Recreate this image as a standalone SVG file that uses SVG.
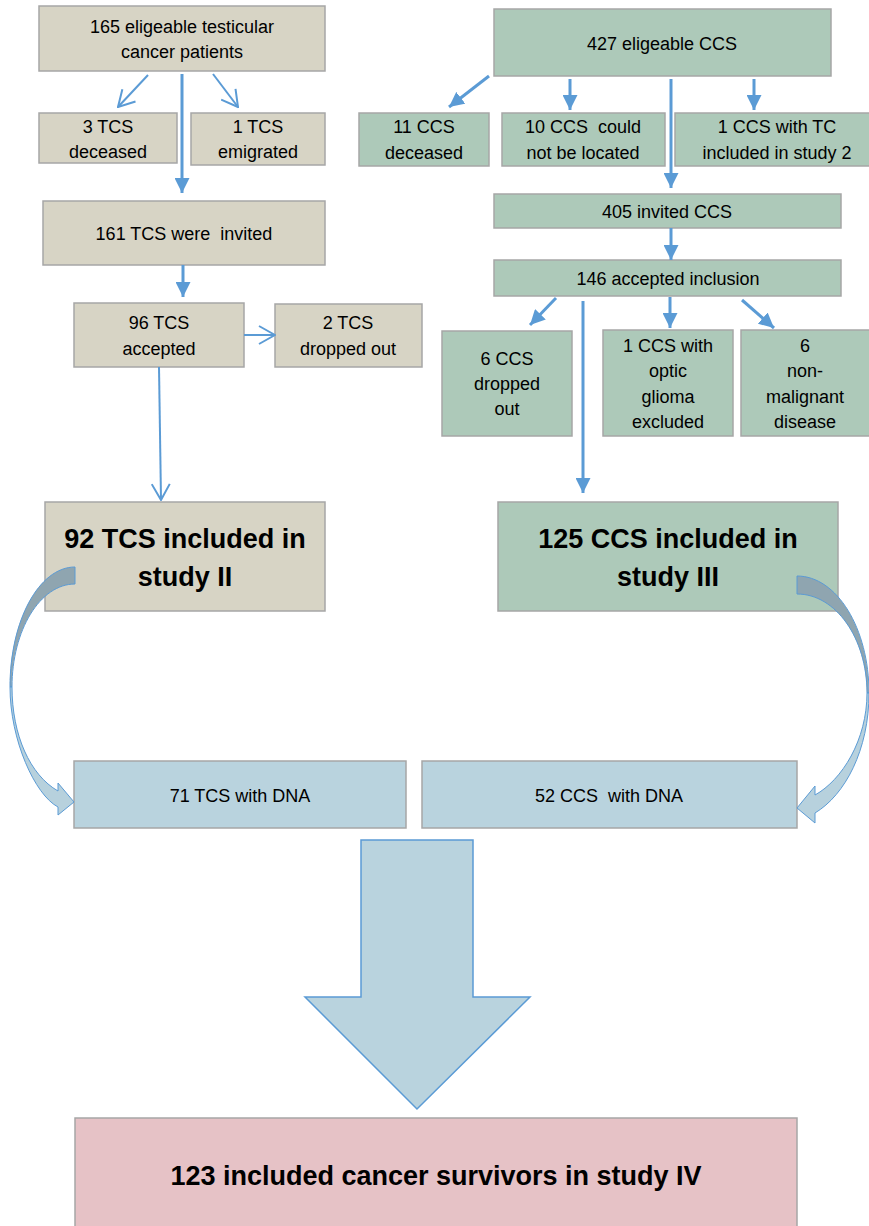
<svg xmlns="http://www.w3.org/2000/svg" width="869" height="1226" viewBox="0 0 869 1226">
<style>
.tc,.cc,.dn,.pk{stroke:#a6a6a6;stroke-width:1.5}
.tc{fill:#d7d4c5}
.cc{fill:#adc9b9}
.dn{fill:#b9d3de}
.pk{fill:#e6c2c6}
text{font-family:"Liberation Sans",Arial,sans-serif;font-size:18px;text-anchor:middle;fill:#000;white-space:pre}
.b{font-weight:bold;font-size:27px}
.ln{stroke:#5b9bd5;fill:none}
.f{stroke-width:3;marker-end:url(#fa)}
.o{stroke-width:2;marker-end:url(#oa)}
.dk{fill:#8fa5b0;stroke:#5b9bd5;stroke-width:1}
.lt{fill:#b7d1dd;stroke:#5b9bd5;stroke-width:1}
</style>
<defs>
<marker id="fa" markerUnits="userSpaceOnUse" viewBox="0 0 15 15" markerWidth="15" markerHeight="15" refX="15" refY="7.5" orient="auto">
<path d="M0,0 L15,7.5 L0,15 Z" fill="#5b9bd5"/>
</marker>
<marker id="oa" markerUnits="userSpaceOnUse" viewBox="0 0 18 20" markerWidth="18" markerHeight="20" refX="17" refY="10" orient="auto">
<path d="M1,1 L17,10 L1,19" fill="none" stroke="#5b9bd5" stroke-width="2"/>
</marker>
</defs>
<rect x="0" y="0" width="869" height="1226" fill="#fff"/>

<g id="n165"><rect class="tc" x="39" y="6" width="286" height="65"/><text x="182" y="33">165 eligeable testicular</text><text x="182" y="58">cancer patients</text></g>
<g id="n3tcs"><rect class="tc" x="39" y="113" width="138" height="50"/><text x="108" y="133">3 TCS</text><text x="108" y="158">deceased</text></g>
<g id="n1tcs"><rect class="tc" x="191" y="113" width="134" height="52"/><text x="258" y="133">1 TCS</text><text x="258" y="158">emigrated</text></g>
<g id="n161"><rect class="tc" x="43" y="201" width="282" height="64"/><text x="184" y="240">161 TCS were  invited</text></g>
<g id="n96"><rect class="tc" x="74" y="303" width="170" height="64"/><text x="159" y="329">96 TCS</text><text x="159" y="355">accepted</text></g>
<g id="n2tcs"><rect class="tc" x="275" y="304" width="147" height="63"/><text x="348" y="329">2 TCS</text><text x="348" y="355">dropped out</text></g>
<g id="n92"><rect class="tc" x="45" y="502" width="280" height="109"/><text class="b" x="185" y="548">92 TCS included in</text><text class="b" x="185" y="586">study II</text></g>

<g id="n427"><rect class="cc" x="494" y="9" width="337" height="67"/><text x="662" y="50">427 eligeable CCS</text></g>
<g id="n11ccs"><rect class="cc" x="359" y="113" width="130" height="53"/><text x="424" y="133">11 CCS</text><text x="424" y="159">deceased</text></g>
<g id="n10ccs"><rect class="cc" x="502" y="113" width="163" height="53"/><text x="583" y="133">10 CCS  could</text><text x="583" y="159">not be located</text></g>
<g id="n1ccs"><rect class="cc" x="675" y="113" width="200" height="53"/><text x="777" y="133">1 CCS with TC</text><text x="777" y="159">included in study 2</text></g>
<g id="n405"><rect class="cc" x="494" y="194" width="347" height="34"/><text x="667" y="218">405 invited CCS</text></g>
<g id="n146"><rect class="cc" x="494" y="260" width="347" height="36"/><text x="668" y="285">146 accepted inclusion</text></g>
<g id="n6ccs"><rect class="cc" x="442" y="331" width="130" height="105"/><text x="507" y="365">6 CCS</text><text x="507" y="390">dropped</text><text x="507" y="415">out</text></g>
<g id="nglioma"><rect class="cc" x="603" y="330" width="130" height="106"/><text x="668" y="352">1 CCS with</text><text x="668" y="377">optic</text><text x="668" y="403">glioma</text><text x="668" y="428">excluded</text></g>
<g id="nnonmal"><rect class="cc" x="741" y="330" width="134" height="106"/><text x="805" y="352">6</text><text x="805" y="377">non-</text><text x="805" y="403">malignant</text><text x="805" y="428">disease</text></g>
<g id="n125"><rect class="cc" x="498" y="502" width="340" height="109"/><text class="b" x="668" y="548">125 CCS included in</text><text class="b" x="668" y="586">study III</text></g>

<g id="n71"><rect class="dn" x="74" y="761" width="332" height="67"/><text x="240" y="802">71 TCS with DNA</text></g>
<g id="n52"><rect class="dn" x="422" y="761" width="375" height="67"/><text x="609" y="802">52 CCS  with DNA</text></g>
<g id="n123"><rect class="pk" x="75" y="1118" width="722" height="115"/><text class="b" x="436" y="1185">123 included cancer survivors in study IV</text></g>

<g id="connectors">
<line class="ln o" x1="148" y1="75" x2="118" y2="107"/>
<line class="ln o" x1="213" y1="74" x2="238" y2="107"/>
<line class="ln f" x1="182" y1="74" x2="182" y2="193"/>
<line class="ln f" x1="183" y1="265" x2="183" y2="297"/>
<line class="ln o" x1="244" y1="335" x2="275" y2="335"/>
<line class="ln o" x1="159" y1="367" x2="161" y2="500"/>
<line class="ln f" x1="489" y1="76" x2="449" y2="107"/>
<line class="ln f" x1="570" y1="79" x2="570" y2="110"/>
<line class="ln f" x1="671" y1="79" x2="671" y2="188"/>
<line class="ln f" x1="754" y1="79" x2="754" y2="110"/>
<line class="ln f" x1="671" y1="228" x2="671" y2="260"/>
<line class="ln f" x1="556" y1="298" x2="530" y2="325"/>
<line class="ln f" x1="583" y1="301" x2="583" y2="493"/>
<line class="ln f" x1="670" y1="297" x2="670" y2="328"/>
<line class="ln f" x1="742" y1="300" x2="774" y2="328"/>
<path class="dk" d="M75,567 C39.1,567 10,620.7 10,687 L12,687 C12,630.1 40.2,584 75,584 Z"/>
<path class="lt" d="M10,687 C10,740 35,795 58,807 L58,815 L74,802 L58,783 L58,791 C30,775 12,735 12,687 Z"/>
<path class="dk" d="M797,576 C836.8,576 869,628.4 869,693 L867,693 C867,638.3 835.7,594 797,594 Z"/>
<path class="lt" d="M869,693 C869,750 845,795 815,813 L815,823 L797,808 L815,786 L815,795 C842,780 867,740 867,693 Z"/>
<polygon points="361,840 473,840 473,997 530,997 417,1109 305,997 361,997" fill="#b9d3de" stroke="#5b9bd5" stroke-width="1.5"/>
</g>
</svg>
